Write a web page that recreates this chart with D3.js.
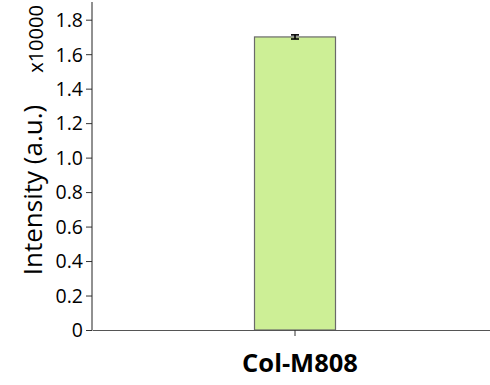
<!DOCTYPE html>
<html><head><meta charset="utf-8">
<script src="https://cdn.jsdelivr.net/npm/d3@7"></script>
<style>body{margin:0;background:#fff}svg{display:block}text{font-family:"Open Sans","Noto Sans",sans-serif;fill:#000}</style>
</head><body><svg id="c" width="490" height="385"></svg>
<script>
const categories = ["Col-M808"];
const values = [1.70];
const errors = [0.012];
const yTicks = [0, 0.2, 0.4, 0.6, 0.8, 1.0, 1.2, 1.4, 1.6, 1.8];
const yTickLabels = ["0","0.2","0.4","0.6","0.8","1.0","1.2","1.4","1.6","1.8"];

(function(){
const svg = d3.select("#c");
const mLeft = 92, mRight = 498, mTop = 19.7, mBottom = 330;
const y = d3.scaleLinear().domain([0, 1.8]).range([mBottom, mTop]);
const x = d3.scaleBand().domain(categories).range([mLeft, mRight]).paddingInner(0.6).paddingOuter(0.4);

// y axis
const ya = svg.append("g").attr("transform", `translate(${mLeft},0)`)
  .call(d3.axisLeft(y).tickValues(yTicks).tickFormat((d,i)=>yTickLabels[i]).tickSize(6).tickSizeOuter(0));
ya.select(".domain").remove();
ya.append("line").attr("x1",0).attr("x2",0).attr("y1",2).attr("y2",mBottom).attr("stroke","#222");
ya.selectAll(".tick line").attr("stroke","#333");
ya.selectAll(".tick text").attr("font-size",19.5).attr("x",-9).attr("dy","0.35em").style("font-family","'Open Sans',sans-serif").attr("fill","#000");

// bars
const bw = 81;
svg.selectAll("rect.bar").data(categories).join("rect")
  .attr("x", d => x(d) + x.bandwidth()/2 - bw/2)
  .attr("width", bw)
  .attr("y", (d,i) => y(values[i]))
  .attr("height", (d,i) => mBottom - y(values[i]))
  .attr("fill", "#cdef96").attr("stroke", "#6a6a6a").attr("stroke-width", 1.2);

// error bars
categories.forEach((c,i)=>{
  const cx = x(c) + x.bandwidth()/2;
  const g = svg.append("g").attr("stroke","#000").attr("stroke-width",1.6);
  g.append("line").attr("x1",cx).attr("x2",cx).attr("y1",y(values[i]+errors[i])).attr("y2",y(values[i]-errors[i]));
  g.append("line").attr("x1",cx-4).attr("x2",cx+4).attr("y1",y(values[i]+errors[i])).attr("y2",y(values[i]+errors[i]));
  g.append("line").attr("x1",cx-4).attr("x2",cx+4).attr("y1",y(values[i]-errors[i])).attr("y2",y(values[i]-errors[i]));
});

// x axis
const xa = svg.append("g").attr("transform", `translate(0,${mBottom})`)
  .call(d3.axisBottom(x).tickSize(6).tickSizeOuter(0));
xa.select(".domain").attr("stroke","#555");
xa.selectAll(".tick line").attr("stroke","#333");
xa.selectAll(".tick text").attr("font-size",25.5).attr("font-weight","bold").attr("y",42).attr("dy","0").attr("dx",5).attr("fill","#000").style("font-family","'Open Sans',sans-serif");

// axis labels
svg.append("text").attr("transform","translate(42,190) rotate(-90)").attr("text-anchor","middle")
  .attr("font-size",26).text("Intensity (a.u.)");
svg.append("text").attr("transform","translate(43,39) rotate(-90)").attr("text-anchor","middle")
  .attr("font-size",20).text("x10000");
})();
</script></body></html>
